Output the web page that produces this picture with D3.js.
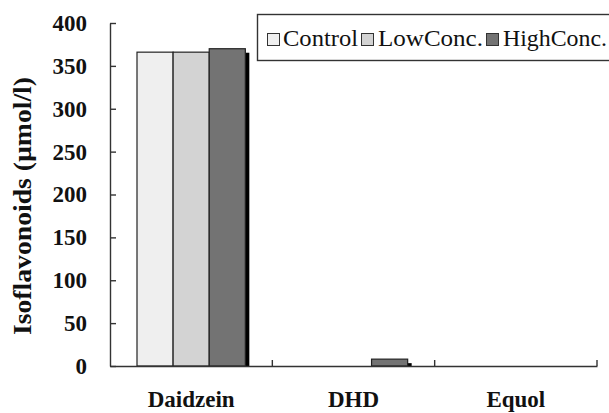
<!DOCTYPE html>
<html>
<head>
<meta charset="utf-8">
<script src="https://cdn.jsdelivr.net/npm/d3@7"></script>
<style>
  body { margin: 0; background: #fff; }
  svg { display: block; }
</style>
</head>
<body>
<div id="chart"></div>
<script>
var categories = ['Daidzein', 'DHD', 'Equol'];
var seriesNames = ['Control', 'LowConc.', 'HighConc.'];
var controlValues = [366, 0, 0];
var lowValues = [366, 0, 0];
var highValues = [370, 8, 0];
var yTicks = [0, 50, 100, 150, 200, 250, 300, 350, 400];
var yTitle = 'Isoflavonoids (\u00b5mol/l)';

var colours = ['#efefef', '#d3d3d3', '#737373'];
var seriesValues = [controlValues, lowValues, highValues];
var serif = '"Times New Roman", Times, serif';

var W = 609, H = 413;
var plot = {left: 110, right: 597, top: 23, bottom: 366};

var svg = d3.select('#chart').append('svg')
    .attr('width', W)
    .attr('height', H);

var xScale = d3.scaleBand().domain(categories).range([plot.left, plot.right]);
var xInner = d3.scaleBand().domain(seriesNames)
    .range([27, xScale.bandwidth() - 27]);
var yScale = d3.scaleLinear().domain([0, 400]).range([plot.bottom, plot.top]);

svg.append('defs').append('clipPath')
    .attr('id', 'plotclip')
  .append('rect')
    .attr('x', plot.left)
    .attr('y', 0)
    .attr('width', plot.right - plot.left + 20)
    .attr('height', plot.bottom);

var rows = [];
categories.forEach(function(c, i) {
    seriesNames.forEach(function(s, j) {
        rows.push({cat: c, series: s, value: seriesValues[j][i], colour: colours[j]});
    });
});

// drop shadows first, bars on top
svg.append('g').attr('clip-path', 'url(#plotclip)')
  .selectAll('rect.shadow')
    .data(rows.filter(function(d) { return d.value > 0; }))
  .enter().append('rect')
    .attr('class', 'shadow')
    .attr('x', function(d) { return xScale(d.cat) + xInner(d.series) + 4; })
    .attr('y', function(d) { return yScale(d.value) + 4; })
    .attr('width', xInner.bandwidth())
    .attr('height', function(d) { return yScale(0) - yScale(d.value); })
    .style('fill', '#000');

svg.append('g').selectAll('rect.bar')
    .data(rows.filter(function(d) { return d.value > 0; }))
  .enter().append('rect')
    .attr('class', 'bar')
    .attr('x', function(d) { return xScale(d.cat) + xInner(d.series); })
    .attr('y', function(d) { return yScale(d.value); })
    .attr('width', xInner.bandwidth())
    .attr('height', function(d) { return yScale(0) - yScale(d.value); })
    .style('fill', function(d) { return d.colour; })
    .style('stroke', '#222')
    .style('stroke-width', 1.2);

// y axis, ticks pointing inward
var yAxis = d3.axisLeft(yScale)
    .tickValues(yTicks)
    .tickSizeInner(-6)
    .tickSizeOuter(0)
    .tickPadding(23);

var yAxisG = svg.append('g')
    .attr('transform', 'translate(' + plot.left + ',0)')
    .call(yAxis)
    .attr('font-family', serif);
yAxisG.select('.domain').style('stroke', '#333').style('stroke-width', 1.4);
yAxisG.selectAll('.tick line').style('stroke', '#333').style('stroke-width', 1.4);
yAxisG.selectAll('.tick text')
    .style('font-family', serif)
    .style('font-weight', 'bold')
    .style('font-size', '23px')
    .style('fill', '#111');

// x axis with ticks at category boundaries
var xAxis = d3.axisBottom(xScale).tickSize(0).tickPadding(41);
var xAxisG = svg.append('g')
    .attr('transform', 'translate(0,' + plot.bottom + ')')
    .call(xAxis)
    .attr('font-family', serif);
xAxisG.select('.domain').style('stroke', '#333').style('stroke-width', 1.4);
xAxisG.selectAll('.tick text')
    .attr('dy', 0)
    .style('font-family', serif)
    .style('font-weight', 'bold')
    .style('font-size', '23px')
    .style('fill', '#111');

xAxisG.selectAll('line.bound')
    .data(categories)
  .enter().append('line')
    .attr('class', 'bound')
    .attr('x1', function(d) { return xScale(d) + xScale.bandwidth(); })
    .attr('x2', function(d) { return xScale(d) + xScale.bandwidth(); })
    .attr('y1', 0)
    .attr('y2', -6)
    .style('stroke', '#333')
    .style('stroke-width', 1.4);

// y title
svg.append('text')
    .attr('transform', 'translate(31,' + 206 + ') rotate(-90)')
    .attr('text-anchor', 'middle')
    .attr('textLength', 258)
    .attr('lengthAdjust', 'spacingAndGlyphs')
    .style('font-family', serif)
    .style('font-weight', 'bold')
    .style('font-size', '25px')
    .style('fill', '#111')
    .text(yTitle);

// legend
var legend = svg.append('g').attr('class', 'legend');
legend.append('rect')
    .attr('x', 257.5)
    .attr('y', 14.5)
    .attr('width', 360)
    .attr('height', 46)
    .style('fill', '#fff')
    .style('stroke', '#333')
    .style('stroke-width', 1.4);

var legendPos = [
    {sx: 267, tx: 283, tw: 75},
    {sx: 361, tx: 378, tw: 105},
    {sx: 486, tx: 503, tw: 104}
];

var items = legend.selectAll('g.item')
    .data(seriesNames)
  .enter().append('g')
    .attr('class', 'item');

items.append('rect')
    .attr('x', function(d, i) { return legendPos[i].sx + 0.5; })
    .attr('y', 33.5)
    .attr('width', 12)
    .attr('height', 12)
    .style('fill', function(d, i) { return colours[i]; })
    .style('stroke', '#333')
    .style('stroke-width', 1);

items.append('text')
    .attr('x', function(d, i) { return legendPos[i].tx; })
    .attr('y', 45.5)
    .attr('textLength', function(d, i) { return legendPos[i].tw; })
    .attr('lengthAdjust', 'spacingAndGlyphs')
    .style('font-family', serif)
    .style('font-size', '23px')
    .style('fill', '#111')
    .text(function(d) { return d; });
</script>
</body>
</html>
